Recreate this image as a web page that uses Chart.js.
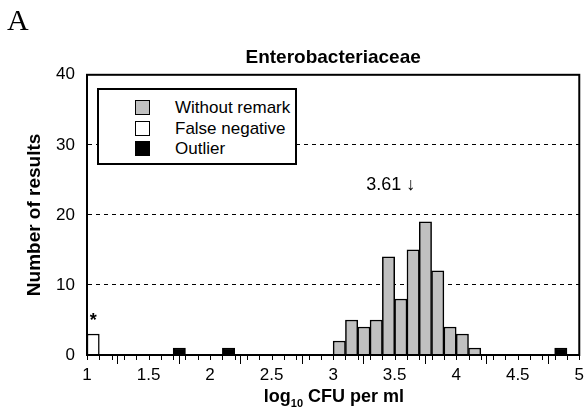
<!DOCTYPE html>
<html>
<head>
<meta charset="utf-8">
<script src="https://cdn.jsdelivr.net/npm/chart.js@4/dist/chart.umd.min.js"></script>
<style>
  body { margin: 0; background: #fff; }
  #wrap { position: relative; width: 585px; height: 416px; font-family: Arial, "Liberation Sans", sans-serif; color: #000; }
  #panel { position: absolute; left: 7px; top: 5px; font-family: "Liberation Serif", "Times New Roman", serif; font-size: 30px; line-height: 1; }
  #legend { position: absolute; left: 97px; top: 88px; width: 196px; height: 73px; border: 2px solid #000; background: #fff; }
  #legend div { position: absolute; left: 76px; font-size: 17px; line-height: 20px; white-space: nowrap; }
  #legend span { position: absolute; left: -40px; top: 2px; width: 15px; height: 15px; border: 1px solid #000; box-sizing: border-box; }
  #xtitle { position: absolute; left: 0; width: 668px; top: 386px; text-align: center; font-weight: bold; font-size: 18px; }
  #xtitle sub { font-size: 11px; }
</style>
</head>
<body>
<div id="wrap">
  <canvas id="chart" width="585" height="416"></canvas>
  <div id="panel">A</div>
  <div id="legend"></div>
  <div id="xtitle">log<sub>10</sub> CFU per ml</div>
</div>
<script>
// counts per 0.1 log bin, keyed by bin centre
const grayBins = [3.05, 3.15, 3.25, 3.35, 3.45, 3.55, 3.65, 3.75, 3.85, 3.95, 4.05, 4.15];
const grayCounts = [2, 5, 4, 5, 14, 8, 15, 19, 12, 4, 3, 1];
const falseNegBins = [1.05];
const falseNegCounts = [3];
const outlierBins = [1.75, 2.15, 4.85];
const outlierCounts = [1, 1, 1];

const seriesNames = ["Without remark", "False negative", "Outlier"];
const seriesColors = ["#c0c0c0", "#ffffff", "#000000"];

const xTicks = [1, 1.5, 2, 2.5, 3, 3.5, 4, 4.5, 5];
const yTicks = [0, 10, 20, 30, 40];

const medianValue = 3.61;
const medianLabel = "3.61 \u2193";

const FONT = "Arial, 'Liberation Sans', sans-serif";
const toPoints = (xs, ys) => xs.map((x, i) => ({ x: x, y: ys[i] }));

// legend box (html, drawn over the plot)
const legend = document.getElementById("legend");
seriesNames.forEach((name, i) => {
  const row = document.createElement("div");
  row.style.top = (8 + i * 20.5) + "px";
  row.innerHTML = `<span style="background:${seriesColors[i]}"></span>${name}`;
  legend.appendChild(row);
});

// frame, minor ticks and text marks
const extras = {
  id: "extras",
  afterDraw(chart) {
    const { ctx, chartArea: a, scales: { x, y } } = chart;
    ctx.save();
    ctx.strokeStyle = "#000";
    ctx.lineWidth = 2;
    ctx.strokeRect(a.left, a.top, a.right - a.left, a.bottom - a.top);

    ctx.lineWidth = 1;
    ctx.beginPath();
    for (let i = 10; i <= 50; i++) {
      const px = Math.round(x.getPixelForValue(i / 10)) + 0.5;
      ctx.moveTo(px, a.bottom);
      ctx.lineTo(px, a.bottom + 5);
    }
    ctx.stroke();

    ctx.fillStyle = "#000";
    ctx.font = "18px " + FONT;
    ctx.textAlign = "right";
    ctx.textBaseline = "middle";
    ctx.fillText(medianLabel, x.getPixelForValue(medianValue) + 7, y.getPixelForValue(24.3));

    ctx.font = "bold 18px " + FONT;
    ctx.textAlign = "center";
    ctx.fillText("*", x.getPixelForValue(falseNegBins[0]), y.getPixelForValue(4.9));
    ctx.restore();
  }
};

const barStyle = { borderColor: "#000", borderWidth: 1.5, barPercentage: 1, categoryPercentage: 1, grouped: false };

new Chart(document.getElementById("chart"), {
  type: "bar",
  data: {
    datasets: [
      { label: seriesNames[0], data: toPoints(grayBins, grayCounts), backgroundColor: seriesColors[0], ...barStyle },
      { label: seriesNames[1], data: toPoints(falseNegBins, falseNegCounts), backgroundColor: seriesColors[1], ...barStyle },
      { label: seriesNames[2], data: toPoints(outlierBins, outlierCounts), backgroundColor: seriesColors[2], ...barStyle }
    ]
  },
  options: {
    responsive: false,
    animation: false,
    layout: { padding: { left: 0, right: 4, top: 0, bottom: 0 } },
    plugins: {
      legend: { display: false },
      tooltip: { enabled: false },
      title: {
        display: true,
        fullSize: false,
        text: "Enterobacteriaceae",
        color: "#000",
        font: { family: FONT, size: 19, weight: "bold" },
        padding: { top: 46, bottom: 6 }
      }
    },
    scales: {
      x: {
        type: "linear",
        min: 1,
        max: 5,
        offset: false,
        afterBuildTicks: s => { s.ticks = xTicks.map(v => ({ value: v })); },
        afterFit: s => { s.height = 61; },
        ticks: { color: "#000", font: { family: FONT, size: 17 }, padding: 1, maxRotation: 0, autoSkip: false, callback: v => String(v) },
        grid: { drawOnChartArea: false, drawTicks: true, tickLength: 9, tickColor: "#000", tickWidth: 1 },
        border: { display: true, color: "#000", width: 2 }
      },
      y: {
        min: 0,
        max: 40,
        afterBuildTicks: s => { s.ticks = yTicks.map(v => ({ value: v })); },
        afterFit: s => { s.width = 87; },
        ticks: { color: "#000", font: { family: FONT, size: 17 }, padding: 12, callback: v => String(v) },
        grid: {
          drawTicks: false,
          color: c => (c.tick && c.tick.value > 0 && c.tick.value < 40) ? "#000" : "rgba(0,0,0,0)",
          lineWidth: 1
        },
        border: { display: true, color: "#000", width: 2, dash: [4, 4] },
        title: {
          display: true,
          text: "Number of results",
          color: "#000",
          font: { family: FONT, size: 19, weight: "bold" },
          padding: { top: 23, bottom: 0 }
        }
      }
    }
  },
  plugins: [extras]
});
</script>
</body>
</html>
